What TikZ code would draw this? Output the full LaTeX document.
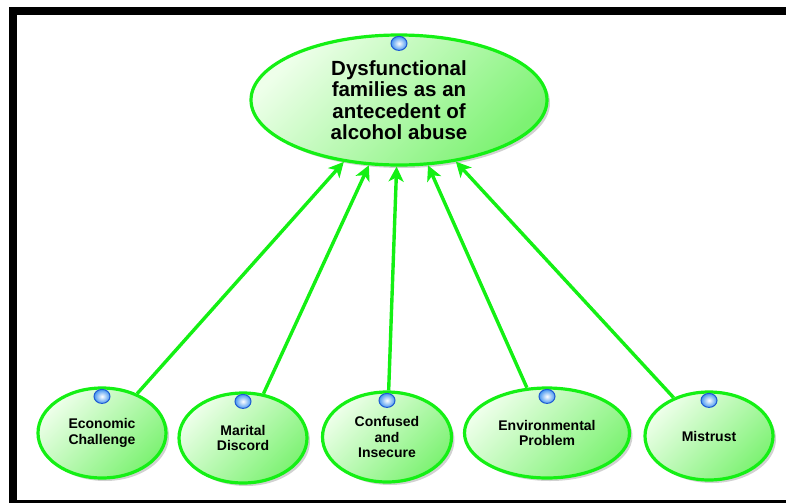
\documentclass[tikz,border=0pt]{standalone}
\usepackage{fontspec}
\setmainfont{Liberation Sans}
\usepackage{tikz}
\usetikzlibrary{shapes.geometric}
\usetikzlibrary{arrows.meta}
\usetikzlibrary{shadows}

\definecolor{limeline}{RGB}{20,240,20}
\definecolor{limelight}{RGB}{238,255,234}
\definecolor{limedark}{RGB}{125,242,115}
\definecolor{balledge}{RGB}{30,90,210}
\definecolor{ballfill}{RGB}{70,150,240}

\begin{document}
\begin{tikzpicture}[x=1pt,y=-1pt,
  every node/.style={text=black,font=\bfseries\fontsize{14}{15.5}\selectfont,align=center},
  concept/.style={ellipse,draw=limeline,line width=3.2pt,inner sep=0pt,
    left color=limelight,right color=limedark,shading angle=45,
    drop shadow={shadow xshift=3pt,shadow yshift=-3pt,opacity=0.18,fill=black}},
  link/.style={draw=limeline,line width=3.4pt,-{Stealth[length=15pt,width=15pt,inset=4pt]}},
  marker/.style={inner color=white,outer color=ballfill,draw=balledge,line width=1pt}]
\useasboundingbox (0,0) rectangle (786,503);
% frame
\fill[black] (9,7) rectangle (786,15);
\fill[black] (9,7) rectangle (17,503);
\fill[black] (9,500) rectangle (786,503);
% concepts
\node[concept,minimum width=296pt,minimum height=130pt,font=\bfseries\fontsize{20.5}{21.5}\selectfont] (dysf) at (399,100) {Dysfunctional\\families as an\\antecedent of\\alcohol abuse};
\node[concept,minimum width=128pt,minimum height=90pt] (econ) at (102,433) {Economic\\Challenge};
\node[concept,minimum width=128pt,minimum height=90pt] (marital) at (243,438) {Marital\\Discord};
\node[concept,minimum width=129pt,minimum height=90pt] (confused) at (387,437) {Confused\\and\\Insecure};
\node[concept,minimum width=165pt,minimum height=90pt] (environ) at (547,433) {Environmental\\Problem};
\node[concept,minimum width=128pt,minimum height=88pt] (mistrust) at (709,436) {Mistrust};
% links
\path (econ) edge[link] (dysf);
\path (marital) edge[link] (dysf);
\path (confused) edge[link] (dysf);
\path (environ) edge[link] (dysf);
\path (mistrust) edge[link] (dysf);
% markers
\foreach \n in {dysf,econ,marital,confused,environ,mistrust}
  \shade[marker] ([yshift=-10pt]\n.north) ellipse [x radius=8pt,y radius=7pt];
\end{tikzpicture}
\end{document}
